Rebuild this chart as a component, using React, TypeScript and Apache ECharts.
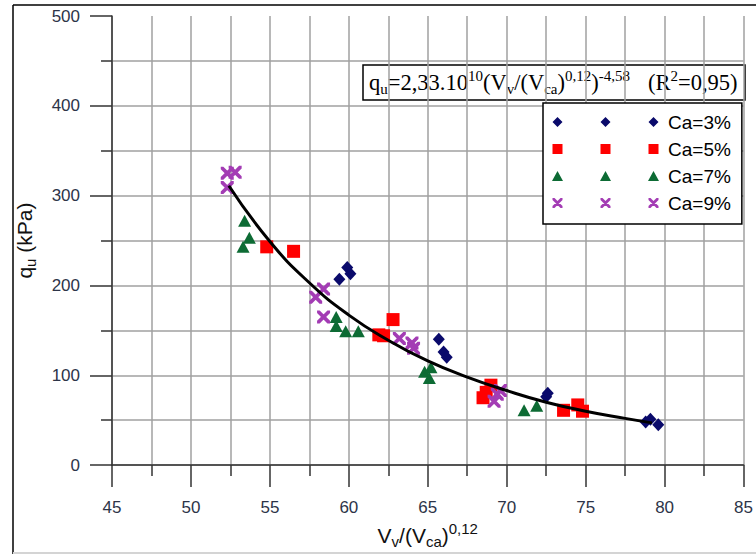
import React, { useEffect, useRef } from "react";
import * as echarts from "echarts";

// Data
const ca3X = [59.4, 59.9, 60.1, 65.7, 66.0, 66.2, 72.5, 72.6, 78.8, 79.1, 79.6];
const ca3Y = [207, 220, 213, 140, 126, 120, 76, 80, 48, 51, 45];

const ca5X = [54.8, 56.5, 62.8, 61.9, 62.2, 69.0, 68.7, 68.5, 73.6, 74.5, 74.8];
const ca5Y = [243, 238, 162, 145, 144, 89, 81, 75, 61, 67, 60];

const ca7X = [53.4, 53.7, 53.3, 59.2, 59.2, 59.8, 60.6, 64.8, 65.2, 65.1, 71.1, 71.9];
const ca7Y = [272, 253, 243, 165, 155, 149, 149, 104, 109, 97, 61, 66];

const ca9X = [52.3, 52.8, 52.3, 58.4, 57.9, 58.4, 63.2, 64.0, 64.1, 69.4, 69.6, 69.2];
const ca9Y = [325, 326, 309, 196, 187, 165, 141, 136, 130, 79, 83, 71];

const fitX = [52.4, 55, 57.5, 60, 62.5, 65, 67.5, 70, 72.5, 75, 77.5, 79.2];
const fitY = [311, 249, 203, 167, 139, 116, 98, 83, 70, 60, 52, 47];

const seriesNames = ["Ca=3%", "Ca=5%", "Ca=7%", "Ca=9%"];
const seriesColors = ["#0a0a6b", "#ff0000", "#0d6b34", "#a33cb4"];

const xMin = 45;
const xMax = 85;
const xStep = 5;
const yMin = 0;
const yMax = 500;
const yStep = 100;

const pairs = (xs: number[], ys: number[]) => xs.map((x, i) => [x, ys[i]]);

// symbol path builders (shape geometry only)
const diamondAt = (c: number) => `M${c},0L${c + 5},5L${c},10L${c - 5},5Z`;
const squareAt = (c: number) => `M${c - 5},0L${c + 5},0L${c + 5},10L${c - 5},10Z`;
const triangleAt = (c: number) => `M${c - 5.5},10L${c},0L${c + 5.5},10Z`;
const crossAt = (c: number) =>
  `M${c - 5},0L${c - 3},0L${c + 5},8L${c + 5},10L${c + 3},10L${c - 5},2Z` +
  `M${c + 5},0L${c + 5},2L${c - 3},10L${c - 5},10L${c - 5},8L${c + 3},0Z`;

const legendCenters = [5.5, 53.5, 101.5];
const legendIcon = (f: (c: number) => string) =>
  "path://" + legendCenters.map(f).join("");

const legendIcons = [
  legendIcon(diamondAt),
  legendIcon(squareAt),
  legendIcon(triangleAt),
  legendIcon(crossAt),
];

const crossSymbol = "path://" + crossAt(5);

export default function App() {
  const ref = useRef<HTMLDivElement>(null);

  useEffect(() => {
    if (!ref.current) return;
    const chart = echarts.init(ref.current, null, { renderer: "svg" });

    const gridColor = "#a0a0a0";
    const axisColor = "#333333";
    const labelColor = "#2d3448";

    const scatterSymbols: any[] = [
      { symbol: "diamond", symbolSize: [12, 13] },
      { symbol: "rect", symbolSize: 13 },
      { symbol: "triangle", symbolSize: [13, 12] },
      { symbol: crossSymbol, symbolSize: 13 },
    ];
    const datasets = [
      pairs(ca3X, ca3Y),
      pairs(ca5X, ca5Y),
      pairs(ca7X, ca7Y),
      pairs(ca9X, ca9Y),
    ];

    const option: any = {
      animation: false,
      backgroundColor: "#ffffff",
      grid: { left: 112, right: 7, top: 16, bottom: 84, containLabel: false },
      xAxis: {
        type: "value",
        min: xMin,
        max: xMax,
        interval: xStep,
        name: "{n|V}{s|v}{n|/(V}{s|ca}{n|)}{p|0,12}",
        nameLocation: "middle",
        nameGap: 50,
        nameTextStyle: {
          rich: {
            n: { fontSize: 21, fontFamily: "Liberation Sans", color: "#111", lineHeight: 28 },
            s: { fontSize: 15, fontFamily: "Liberation Sans", color: "#111", lineHeight: 14, verticalAlign: "bottom" },
            p: { fontSize: 15, fontFamily: "Liberation Sans", color: "#111", lineHeight: 14, verticalAlign: "top" },
          },
        },
        axisLine: { onZero: false, lineStyle: { color: axisColor, width: 1.5 } },
        axisTick: { show: true, length: 22, lineStyle: { color: axisColor, width: 1.5 } },
        minorTick: { show: true, splitNumber: 2, length: 11, lineStyle: { color: axisColor, width: 1.5 } },
        axisLabel: {
          margin: 34,
          fontSize: 17,
          fontFamily: "Liberation Sans",
          color: labelColor,
        },
        splitLine: { show: true, lineStyle: { color: gridColor, width: 1.5 } },
        minorSplitLine: { show: true, lineStyle: { color: gridColor, width: 1.5 } },
      },
      yAxis: {
        type: "value",
        min: yMin,
        max: yMax,
        interval: yStep,
        name: "{n|q}{s|u}{n| (kPa)}",
        nameLocation: "middle",
        nameRotate: 90,
        nameGap: 74,
        nameTextStyle: {
          rich: {
            n: { fontSize: 21, fontFamily: "Liberation Sans", color: "#111", lineHeight: 28 },
            s: { fontSize: 15, fontFamily: "Liberation Sans", color: "#111", lineHeight: 14, verticalAlign: "bottom" },
          },
        },
        axisLine: { show: true, onZero: false, lineStyle: { color: axisColor, width: 1.5 } },
        axisTick: { show: true, length: 22, lineStyle: { color: axisColor, width: 1.5 } },
        minorTick: { show: true, splitNumber: 2, length: 11, lineStyle: { color: axisColor, width: 1.5 } },
        axisLabel: {
          margin: 32,
          fontSize: 17,
          fontFamily: "Liberation Sans",
          color: labelColor,
        },
        splitLine: { show: true, showMaxLine: false, lineStyle: { color: gridColor, width: 1.5 } },
        minorSplitLine: { show: true, lineStyle: { color: gridColor, width: 1.5 } },
      },
      legend: {
        orient: "vertical",
        left: 543,
        top: 103,
        padding: [9, 11, 11, 9],
        itemWidth: 107,
        itemHeight: 10,
        itemGap: 7,
        backgroundColor: "#ffffff",
        borderColor: "#000000",
        borderWidth: 1.5,
        borderRadius: 0,
        textStyle: {
          fontSize: 19,
          fontFamily: "Liberation Sans",
          color: "#000000",
          lineHeight: 20,
          padding: [0, 0, 0, 4],
        },
        data: seriesNames.map((n, i) => ({ name: n, icon: legendIcons[i] })),
        selectedMode: false,
      },
      series: [
        ...seriesNames.map((name, i) => ({
          name,
          type: "scatter",
          data: datasets[i],
          symbol: scatterSymbols[i].symbol,
          symbolSize: scatterSymbols[i].symbolSize,
          itemStyle: { color: seriesColors[i], opacity: 1 },
          z: 3,
        })),
        {
          name: "fit",
          type: "line",
          data: pairs(fitX, fitY),
          smooth: true,
          showSymbol: false,
          symbol: "none",
          lineStyle: { color: "#000000", width: 3 },
          z: 5,
        },
      ],
      graphic: [
        {
          type: "group",
          z: 100,
          children: [
            {
              type: "rect",
              shape: { x: 363, y: 65, width: 382, height: 35 },
              style: { fill: "#ffffff", stroke: "#000000", lineWidth: 1.5 },
            },
            {
              type: "text",
              x: 369,
              y: 82.5,
              style: {
                text:
                  "{n|q}{s|u}{n|=2,33.10}{p|10}{n|(V}{s|v}{n|/(V}{s|ca}{n|)}{p|0,12}{n|)}{p|-4,58}{g| }{n|(R}{p|2}{n|=0,95)}",
                verticalAlign: "middle",
                align: "left",
                rich: {
                  n: { fontSize: 22.5, fontFamily: "Liberation Serif", fill: "#000", lineHeight: 28 },
                  s: { fontSize: 15, fontFamily: "Liberation Serif", fill: "#000", lineHeight: 16, verticalAlign: "bottom" },
                  p: { fontSize: 15, fontFamily: "Liberation Serif", fill: "#000", lineHeight: 16, verticalAlign: "top" },
                  g: { fontSize: 22, fontFamily: "Liberation Serif", width: 18 },
                },
              },
            },
          ],
        },
        {
          type: "line",
          z: 100,
          shape: { x1: 13, y1: 5, x2: 13, y2: 556 },
          style: { stroke: "#000000", lineWidth: 1.5 },
        },
        {
          type: "line",
          z: 100,
          shape: { x1: 13, y1: 5, x2: 756, y2: 5 },
          style: { stroke: "#000000", lineWidth: 1.5 },
        },
        {
          type: "line",
          z: 100,
          shape: { x1: 13, y1: 553, x2: 756, y2: 553 },
          style: { stroke: "#d4d4d4", lineWidth: 2 },
        },
      ],
    };

    chart.setOption(option);
    return () => chart.dispose();
  }, []);

  return (
    <div
      ref={ref}
      style={{ position: "absolute", left: 0, top: 0, width: 756, height: 554 }}
    />
  );
}
